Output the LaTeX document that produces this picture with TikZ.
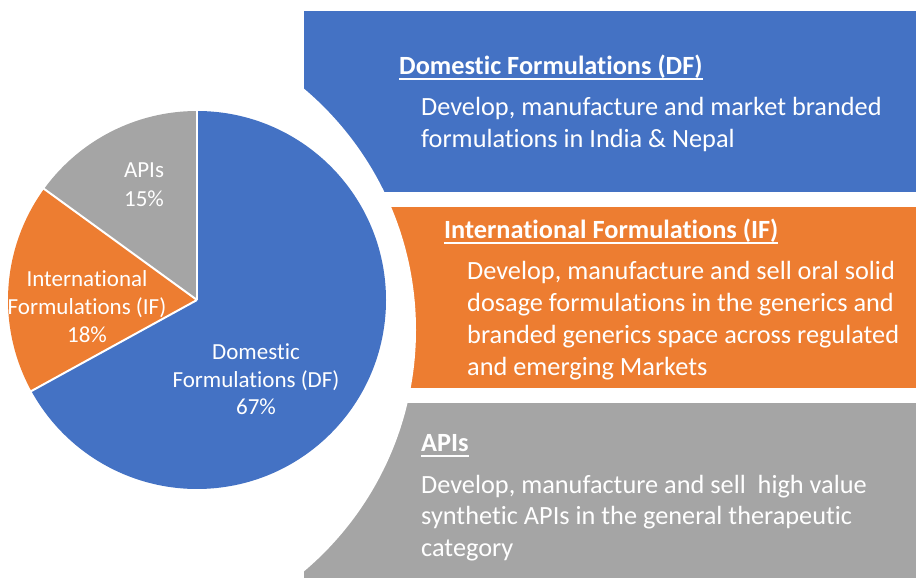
\documentclass[tikz,border=0pt]{standalone}
\usepackage{fontspec}
\setmainfont{Carlito}[Ligatures={NoCommon}]
\definecolor{cblue}{HTML}{4472C4}
\definecolor{corange}{HTML}{ED7D31}
\definecolor{cgray}{HTML}{A5A5A5}
\newcommand\myul[1]{\setbox0\hbox{#1}\rlap{\rule[-4.8pt]{\wd0}{1.4pt}}\box0}
\tikzset{
  bodytxt/.style={anchor=base west, inner sep=0pt, text=white, font=\fontsize{26.3}{30}\selectfont},
  headtxt/.style={anchor=base west, inner sep=0pt, text=white, font=\fontsize{26.3}{30}\selectfont\bfseries},
  pielbl/.style={anchor=base, inner sep=0pt, text=white, font=\fontsize{23}{26}\selectfont},
  sep/.style={white, line width=2pt}
}
\begin{document}
\begin{tikzpicture}[x=1pt,y=1pt]
\useasboundingbox (0,0) rectangle (916,578);
\clip (0,0) rectangle (916,578);
\fill[white] (0,0) rectangle (916,578);
% right panels
\fill[cblue] (304,567) rectangle (916,386);
\fill[corange] (304,371) rectangle (916,190);
\fill[cgray] (304,175) rectangle (916,0);
\fill[white] (100,248) circle[radius=316];
% pie
\coordinate (c) at (197,278);
\fill[cblue] (c) -- ++(90:189) arc[start angle=90, end angle=-151.2, radius=189] -- cycle;
\fill[corange] (c) -- ++(208.8:189) arc[start angle=208.8, end angle=144, radius=189] -- cycle;
\fill[cgray] (c) -- ++(144:189) arc[start angle=144, end angle=90, radius=189] -- cycle;
\draw[sep] (c) -- ++(90:190);
\draw[sep] (c) -- ++(208.8:190);
\draw[sep] (c) -- ++(144:190);
% pie labels
\node[pielbl] (pa1) at (144,578-178) {APIs};
\node[pielbl] (pa2) at (144,578-207) {15\%};
\node[pielbl] (pi1) at (87,578-287) {International};
\node[pielbl] (pi2) at (87,578-315) {Formulations (IF)};
\node[pielbl] (pi3) at (87,578-343) {18\%};
\node[pielbl] (pd1) at (256,578-360) {Domestic};
\node[pielbl] (pd2) at (256,578-388) {Formulations (DF)};
\node[pielbl] (pd3) at (256,578-415) {67\%};
% DF text
\node[headtxt] (dfh) at (399,578-75) {\myul{Domestic Formulations (DF)}};
\node[bodytxt] (df1) at (421,578-116) {Develop, manufacture and market branded};
\node[bodytxt] (df2) at (421,578-148) {formulations in India \& Nepal};
% IF text
\node[headtxt] (ifh) at (444,578-239) {\myul{International Formulations (IF)}};
\node[bodytxt] (if1) at (467,578-280) {Develop, manufacture and sell oral solid};
\node[bodytxt] (if2) at (467,578-312) {dosage formulations in the generics and};
\node[bodytxt] (if3) at (467,578-344) {branded generics space across regulated};
\node[bodytxt] (if4) at (467,578-376) {and emerging Markets};
% APIs text
\node[headtxt] (aph) at (421,578-452) {\myul{APIs}};
\node[bodytxt] (ap1) at (421,578-494) {Develop, manufacture and sell\ \ high value};
\node[bodytxt] (ap2) at (421,578-525) {synthetic APIs in the general therapeutic};
\node[bodytxt] (ap3) at (421,578-557) {category};
\end{tikzpicture}
\end{document}
